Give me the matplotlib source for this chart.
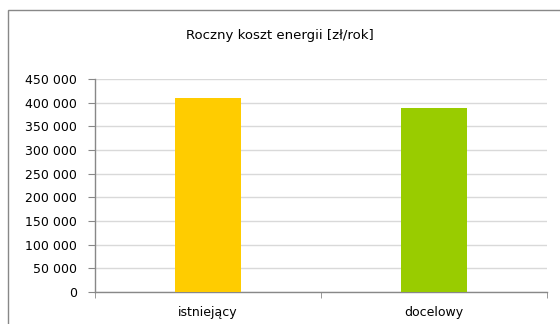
import matplotlib
matplotlib.use("Agg")
import matplotlib.pyplot as plt
from matplotlib.patches import Rectangle
from matplotlib.ticker import FuncFormatter, FixedLocator

categories = ["istniejący", "docelowy"]
values = [410000, 389000]
colors = ["#FFCC00", "#99CC00"]
title = "Roczny koszt energii [zł/rok]"
yticks = list(range(0, 450001, 50000))

W, H = 560, 324
fig = plt.figure(figsize=(W/100, H/100), dpi=100)
plt.rcParams['font.family'] = ['DejaVu Sans']

# outer chart border (extends beyond the image on right and bottom)
fig.patches.append(Rectangle((8/W, -0.1), 1.2, (H-10)/H + 0.1, transform=fig.transFigure,
                             fill=False, edgecolor="#888888", linewidth=1.0))

ax = fig.add_axes([95/W, 32/H, 452/W, 213/H])
x = list(range(len(categories)))
ax.bar(x, values, width=0.288, color=colors, zorder=3)
ax.set_xlim(-0.5, len(categories) - 0.5)
ax.set_ylim(0, 450000)
ax.set_yticks(yticks)
ax.yaxis.set_major_formatter(FuncFormatter(lambda v, p: f"{int(v):,}".replace(",", " ")))
ax.yaxis.grid(True, color="#D9D9D9", linewidth=1.0, zorder=0)
ax.set_xticks(x)
ax.set_xticklabels(categories)
ax.xaxis.set_minor_locator(FixedLocator([-0.5 + i for i in range(len(categories) + 1)]))
ax.tick_params(axis='x', which='major', length=0, pad=10, labelsize=9)
ax.tick_params(axis='x', which='minor', length=4, color="#888888", direction='out')
ax.tick_params(axis='y', length=5, color="#888888", labelsize=9, pad=8)
for s in ["top", "right"]:
    ax.spines[s].set_visible(False)
for s in ["left", "bottom"]:
    ax.spines[s].set_color("#888888")
    ax.spines[s].set_linewidth(1.0)

fig.text(280/W, 1 - 36/H, title, ha="center", va="center", fontsize=9.5)

fig.savefig("out.png", dpi=100)
